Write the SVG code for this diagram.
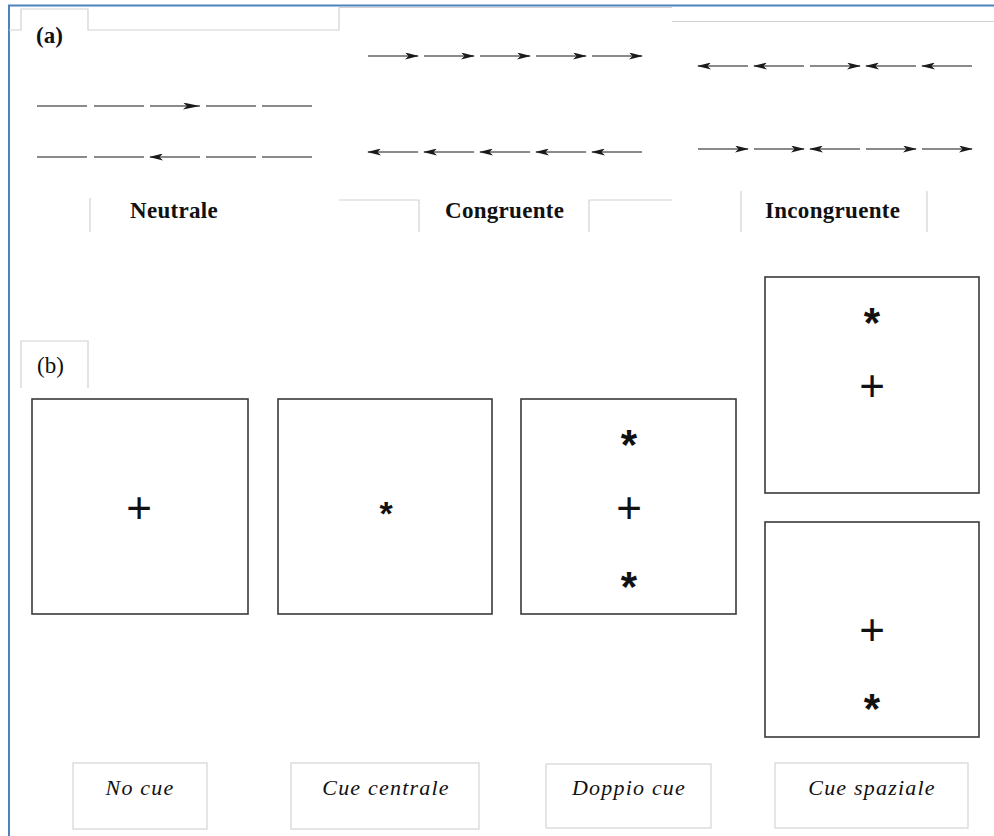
<svg xmlns="http://www.w3.org/2000/svg" width="994" height="836" viewBox="0 0 994 836">
  <style>
    .frame { stroke: #4f81bd; stroke-width: 2; fill: none; }
    .guide { stroke: #d2d2d2; stroke-width: 1.2; fill: none; }
    .seg { stroke: #8a8a8a; stroke-width: 2; fill: none; }
    .box { fill: #ffffff; stroke: #3a3a3a; stroke-width: 1.6; }
    .lbox { fill: #ffffff; stroke: #d4d4d4; stroke-width: 1.2; }
    .hdr { font-family: "Liberation Serif", "Times New Roman", serif; font-weight: bold; font-size: 23px; fill: #111; letter-spacing: 0.3px; }
    .tag { font-family: "Liberation Serif", "Times New Roman", serif; font-size: 23px; fill: #111; }
    .cue { font-family: "Liberation Serif", "Times New Roman", serif; font-style: italic; font-size: 22px; fill: #111; text-anchor: middle; letter-spacing: 1.2px; }
    .sym { font-family: "Liberation Sans", Arial, sans-serif; fill: #111; text-anchor: middle; }
    .plus { font-size: 44px; }
    .star { font-size: 42px; font-weight: bold; }
    .star-s { font-size: 34px; font-weight: bold; }
  </style>
  <defs>
    <marker id="ah" viewBox="0 0 14 7" markerWidth="14" markerHeight="7" markerUnits="userSpaceOnUse" refX="13" refY="3.5" orient="auto-start-reverse">
      <path d="M0,0 L14,3.5 L0,7 L3.5,3.5 z" fill="#1a1a1a"/>
    </marker>
    <marker id="ahn" viewBox="0 0 17 7" markerWidth="17" markerHeight="7" markerUnits="userSpaceOnUse" refX="17" refY="3.5" orient="auto-start-reverse">
      <path d="M0,0 L17,3.5 L0,7 L4,3.5 z" fill="#1a1a1a"/>
    </marker>
  </defs>
  <rect width="994" height="836" fill="#ffffff"/>

  <!-- outer frame -->
  <g id="frame">
    <path class="frame" d="M9,836 L9,5.5 L994,5.5"/>
    <!-- tab (a) -->
    <path class="guide" d="M9,30 L21,30 L21,9 L88,9 L88,30 L339,30 L339,7.5"/>
    <path class="guide" d="M339,7.5 L672,7.5"/>
    <path class="guide" d="M672,21.5 L994,21.5"/>
    <!-- label rules -->
    <path class="guide" d="M90,198 L90,232"/>
    <path class="guide" d="M339,200 L419,200 L419,232"/>
    <path class="guide" d="M589,232 L589,200 L672,200"/>
    <path class="guide" d="M741,191 L741,232"/>
    <path class="guide" d="M927,191 L927,232"/>
    <!-- tab (b) -->
    <path class="guide" d="M21,388 L21,341 L88,341 L88,388"/>
  </g>

  <g id="panel-a-label"><text class="tag" x="36" y="43" font-weight="bold">(a)</text></g>

  <!-- arrow stimuli (connectors) -->
  <g id="connectors">
    <!-- Neutrale -->
    <line class="seg" x1="37" y1="106" x2="87" y2="106"/>
    <line class="seg" x1="94" y1="106" x2="144" y2="106"/>
    <line class="seg" x1="150" y1="106" x2="200" y2="106" marker-end="url(#ahn)"/>
    <line class="seg" x1="206" y1="106" x2="256" y2="106"/>
    <line class="seg" x1="262" y1="106" x2="312" y2="106"/>
    <line class="seg" x1="37" y1="157" x2="87" y2="157"/>
    <line class="seg" x1="94" y1="157" x2="144" y2="157"/>
    <line class="seg" x1="150" y1="157" x2="200" y2="157" marker-start="url(#ah)"/>
    <line class="seg" x1="206" y1="157" x2="256" y2="157"/>
    <line class="seg" x1="262" y1="157" x2="312" y2="157"/>
    <!-- Congruente -->
    <line class="seg" x1="368" y1="56" x2="418" y2="56" marker-end="url(#ah)"/>
    <line class="seg" x1="424" y1="56" x2="474" y2="56" marker-end="url(#ah)"/>
    <line class="seg" x1="480" y1="56" x2="530" y2="56" marker-end="url(#ah)"/>
    <line class="seg" x1="536" y1="56" x2="586" y2="56" marker-end="url(#ah)"/>
    <line class="seg" x1="592" y1="56" x2="642" y2="56" marker-end="url(#ah)"/>
    <line class="seg" x1="368" y1="152" x2="418" y2="152" marker-start="url(#ah)"/>
    <line class="seg" x1="424" y1="152" x2="474" y2="152" marker-start="url(#ah)"/>
    <line class="seg" x1="480" y1="152" x2="530" y2="152" marker-start="url(#ah)"/>
    <line class="seg" x1="536" y1="152" x2="586" y2="152" marker-start="url(#ah)"/>
    <line class="seg" x1="592" y1="152" x2="642" y2="152" marker-start="url(#ah)"/>
    <!-- Incongruente -->
    <line class="seg" x1="698" y1="66" x2="748" y2="66" marker-start="url(#ah)"/>
    <line class="seg" x1="754" y1="66" x2="804" y2="66" marker-start="url(#ah)"/>
    <line class="seg" x1="810" y1="66" x2="860" y2="66" marker-end="url(#ah)"/>
    <line class="seg" x1="866" y1="66" x2="916" y2="66" marker-start="url(#ah)"/>
    <line class="seg" x1="922" y1="66" x2="972" y2="66" marker-start="url(#ah)"/>
    <line class="seg" x1="698" y1="149" x2="748" y2="149" marker-end="url(#ah)"/>
    <line class="seg" x1="754" y1="149" x2="804" y2="149" marker-end="url(#ah)"/>
    <line class="seg" x1="810" y1="149" x2="860" y2="149" marker-start="url(#ah)"/>
    <line class="seg" x1="866" y1="149" x2="916" y2="149" marker-end="url(#ah)"/>
    <line class="seg" x1="922" y1="149" x2="972" y2="149" marker-end="url(#ah)"/>
  </g>

  <g id="label-neutrale"><text class="hdr" x="130" y="218">Neutrale</text></g>
  <g id="label-congruente"><text class="hdr" x="445" y="218">Congruente</text></g>
  <g id="label-incongruente"><text class="hdr" x="765" y="218">Incongruente</text></g>

  <g id="panel-b-label"><text class="tag" x="37" y="373">(b)</text></g>

  <g id="box-nocue">
    <rect class="box" x="32" y="399" width="216" height="215"/>
    <text class="sym plus" x="139" y="523">+</text>
  </g>
  <g id="box-central">
    <rect class="box" x="278" y="399" width="214" height="215"/>
    <text class="sym star-s" x="386" y="525">*</text>
  </g>
  <g id="box-double">
    <rect class="box" x="521" y="399" width="215" height="215"/>
    <text class="sym star" x="629" y="459">*</text>
    <text class="sym plus" x="629" y="523">+</text>
    <text class="sym star" x="629" y="601">*</text>
  </g>
  <g id="box-spatial-up">
    <rect class="box" x="765" y="277" width="214" height="216"/>
    <text class="sym star" x="872" y="337">*</text>
    <text class="sym plus" x="872" y="401">+</text>
  </g>
  <g id="box-spatial-down">
    <rect class="box" x="765" y="522" width="214" height="215"/>
    <text class="sym plus" x="872" y="645">+</text>
    <text class="sym star" x="872" y="723">*</text>
  </g>

  <g id="cap-nocue">
    <rect class="lbox" x="73" y="763" width="134" height="66"/>
    <text class="cue" x="140" y="795">No cue</text>
  </g>
  <g id="cap-central">
    <rect class="lbox" x="291" y="763" width="188" height="66"/>
    <text class="cue" x="386" y="795">Cue centrale</text>
  </g>
  <g id="cap-double">
    <rect class="lbox" x="546" y="764" width="165" height="64"/>
    <text class="cue" x="629" y="795">Doppio cue</text>
  </g>
  <g id="cap-spatial">
    <rect class="lbox" x="775" y="763" width="193" height="65"/>
    <text class="cue" x="872" y="795">Cue spaziale</text>
  </g>
</svg>
